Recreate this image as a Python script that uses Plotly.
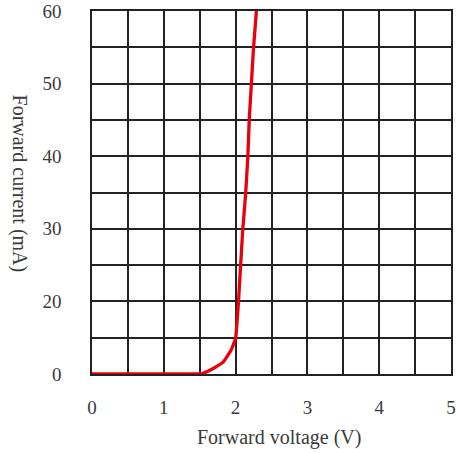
import plotly.graph_objects as go

# Forward voltage (V) and forward current (mA)
voltage = [0.0, 0.75, 1.5, 1.52, 1.59, 1.70, 1.83, 1.94, 2.00, 2.04, 2.07, 2.10, 2.14, 2.17, 2.19, 2.22, 2.25, 2.29]
current = [0.0, 0.0, 0.0, 0.0, 0.33, 1.0, 2.0, 4.0, 5.9, 11.9, 18.0, 23.9, 29.8, 35.8, 42.0, 48.0, 54.0, 60.0]

x_ticks = [0, 1, 2, 3, 4, 5]
x_tick_text = ["0", "1", "2", "3", "4", "5"]
# reference labels sit on every second gridline (gridlines every 6 mA)
y_tick_vals = [0, 12, 24, 36, 48, 60]
y_tick_text = ["0", "20", "30", "40", "50", "60"]

FONT = "Liberation Serif"
TXT = "#3a3a3a"
GRID = "#222222"

fig = go.Figure()
fig.add_trace(go.Scatter(x=voltage, y=current, mode="lines",
                         line=dict(color="#e8000b", width=3.3, shape="spline", smoothing=0.3),
                         hoverinfo="skip", showlegend=False, cliponaxis=False))

fig.update_layout(
    width=457, height=453,
    margin=dict(l=92, r=1, t=10, b=79),
    paper_bgcolor="white", plot_bgcolor="white",
    font=dict(family=FONT, size=19, color=TXT),
    xaxis=dict(range=[0, 5], showgrid=True, gridcolor=GRID, gridwidth=1.5,
               tickmode="array", tickvals=x_ticks, ticktext=x_tick_text,
               minor=dict(dtick=0.5, showgrid=True, gridcolor=GRID, gridwidth=1.5),
               showline=True, linecolor=GRID, linewidth=1.5, mirror=True,
               ticks="", ticklabelstandoff=15, ticklabeloverflow="allow",
               zeroline=False, fixedrange=True),
    yaxis=dict(range=[0, 60], showgrid=True, gridcolor=GRID, gridwidth=1.5,
               tickmode="array", tickvals=y_tick_vals, ticktext=y_tick_text,
               minor=dict(dtick=6, showgrid=True, gridcolor=GRID, gridwidth=1.5),
               showline=True, linecolor=GRID, linewidth=1.5, mirror=True,
               ticks="", ticklabelstandoff=25, ticklabeloverflow="allow",
               zeroline=False, fixedrange=True),
    annotations=[
        dict(text="Forward voltage (V)", xref="paper", yref="paper",
             x=(282 - 92) / 364, y=(374 - 438) / 364, xanchor="center", yanchor="middle",
             showarrow=False, font=dict(family=FONT, size=20, color=TXT)),
        dict(text="Forward current (mA)", xref="paper", yref="paper",
             x=(18 - 92) / 364, y=(374 - 183) / 364, xanchor="center", yanchor="middle",
             textangle=90, showarrow=False, font=dict(family=FONT, size=20, color=TXT)),
    ],
)

fig.write_html("out.html", config={"displayModeBar": False},
               post_script="document.body.style.margin='0';")
